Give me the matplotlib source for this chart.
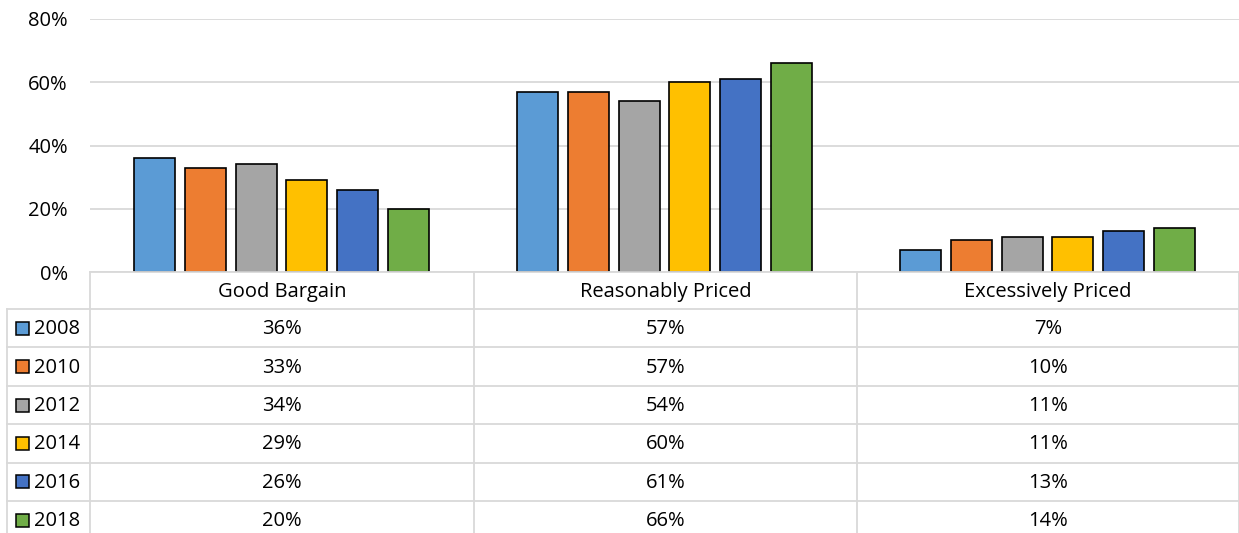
import matplotlib.pyplot as plt
from matplotlib.patches import Rectangle

categories = ["Good Bargain", "Reasonably Priced", "Excessively Priced"]
years = ["2008", "2010", "2012", "2014", "2016", "2018"]
v2008 = [36, 57, 7]
v2010 = [33, 57, 10]
v2012 = [34, 54, 11]
v2014 = [29, 60, 11]
v2016 = [26, 61, 13]
v2018 = [20, 66, 14]
series = [v2008, v2010, v2012, v2014, v2016, v2018]
colors = ["#5B9BD5", "#ED7D31", "#A5A5A5", "#FFC000", "#4472C4", "#70AD47"]

plt.rcParams['font.family'] = ['Open Sans', 'DejaVu Sans']
W, H = 1239, 533
fs = 14.5
fig = plt.figure(figsize=(W / 100, H / 100), dpi=100)
grid_col = "#d9d9d9"

# bar area (pixel box: x 90..1239, y 19..272)
ax = fig.add_axes([90 / W, (H - 272) / H, (W - 90) / W, (272 - 19) / H])
pitch = 0.133
width = 0.107
for i, vals in enumerate(series):
    xs = [c + (i - 2.5) * pitch for c in range(len(categories))]
    ax.bar(xs, [v / 100 for v in vals], width=width, color=colors[i],
           edgecolor="black", linewidth=1.2, zorder=3)
ax.set_xlim(-0.5, 2.5)
ax.set_ylim(0, 0.8)
ax.set_yticks([0, 0.2, 0.4, 0.6, 0.8])
ax.set_yticklabels(["0%", "20%", "40%", "60%", "80%"], fontsize=fs)
ax.tick_params(axis="y", length=0, pad=16)
ax.set_xticks([])
ax.grid(axis="y", color=grid_col, linewidth=1.3, zorder=0)
for s in ax.spines.values():
    s.set_visible(False)

# data table drawn in pixel coordinates
tb = fig.add_axes([0, 0, 1, 1])
tb.set_xlim(0, W)
tb.set_ylim(H, 0)
tb.axis("off")

col_edges = [90, 474, 857, 1239]
header_top, header_bot = 272, 309
row_h = 38.4
row_tops = [header_bot + k * row_h for k in range(len(years))]

tb.plot([90, W], [header_top, header_top], color=grid_col, lw=1.3)
for y in row_tops:
    tb.plot([7, W], [y, y], color=grid_col, lw=1.3)
tb.plot([7, 7], [header_bot, H], color=grid_col, lw=1.3)
for x in col_edges:
    tb.plot([x, x], [header_top, H], color=grid_col, lw=1.3)

for j, cat in enumerate(categories):
    cx = (col_edges[j] + col_edges[j + 1]) / 2
    tb.text(cx, (header_top + header_bot) / 2 + 1, cat, ha="center", va="center", fontsize=fs)

for i, yr in enumerate(years):
    cy = row_tops[i] + row_h / 2
    tb.add_patch(Rectangle((16, cy - 6.5), 13, 13, facecolor=colors[i],
                           edgecolor="black", linewidth=1.1))
    tb.text(34, cy + 1, yr, ha="left", va="center", fontsize=fs)
    for j in range(len(categories)):
        cx = (col_edges[j] + col_edges[j + 1]) / 2
        tb.text(cx, cy + 1, f"{series[i][j]}%", ha="center", va="center", fontsize=fs)

fig.savefig("out.png", dpi=100)
